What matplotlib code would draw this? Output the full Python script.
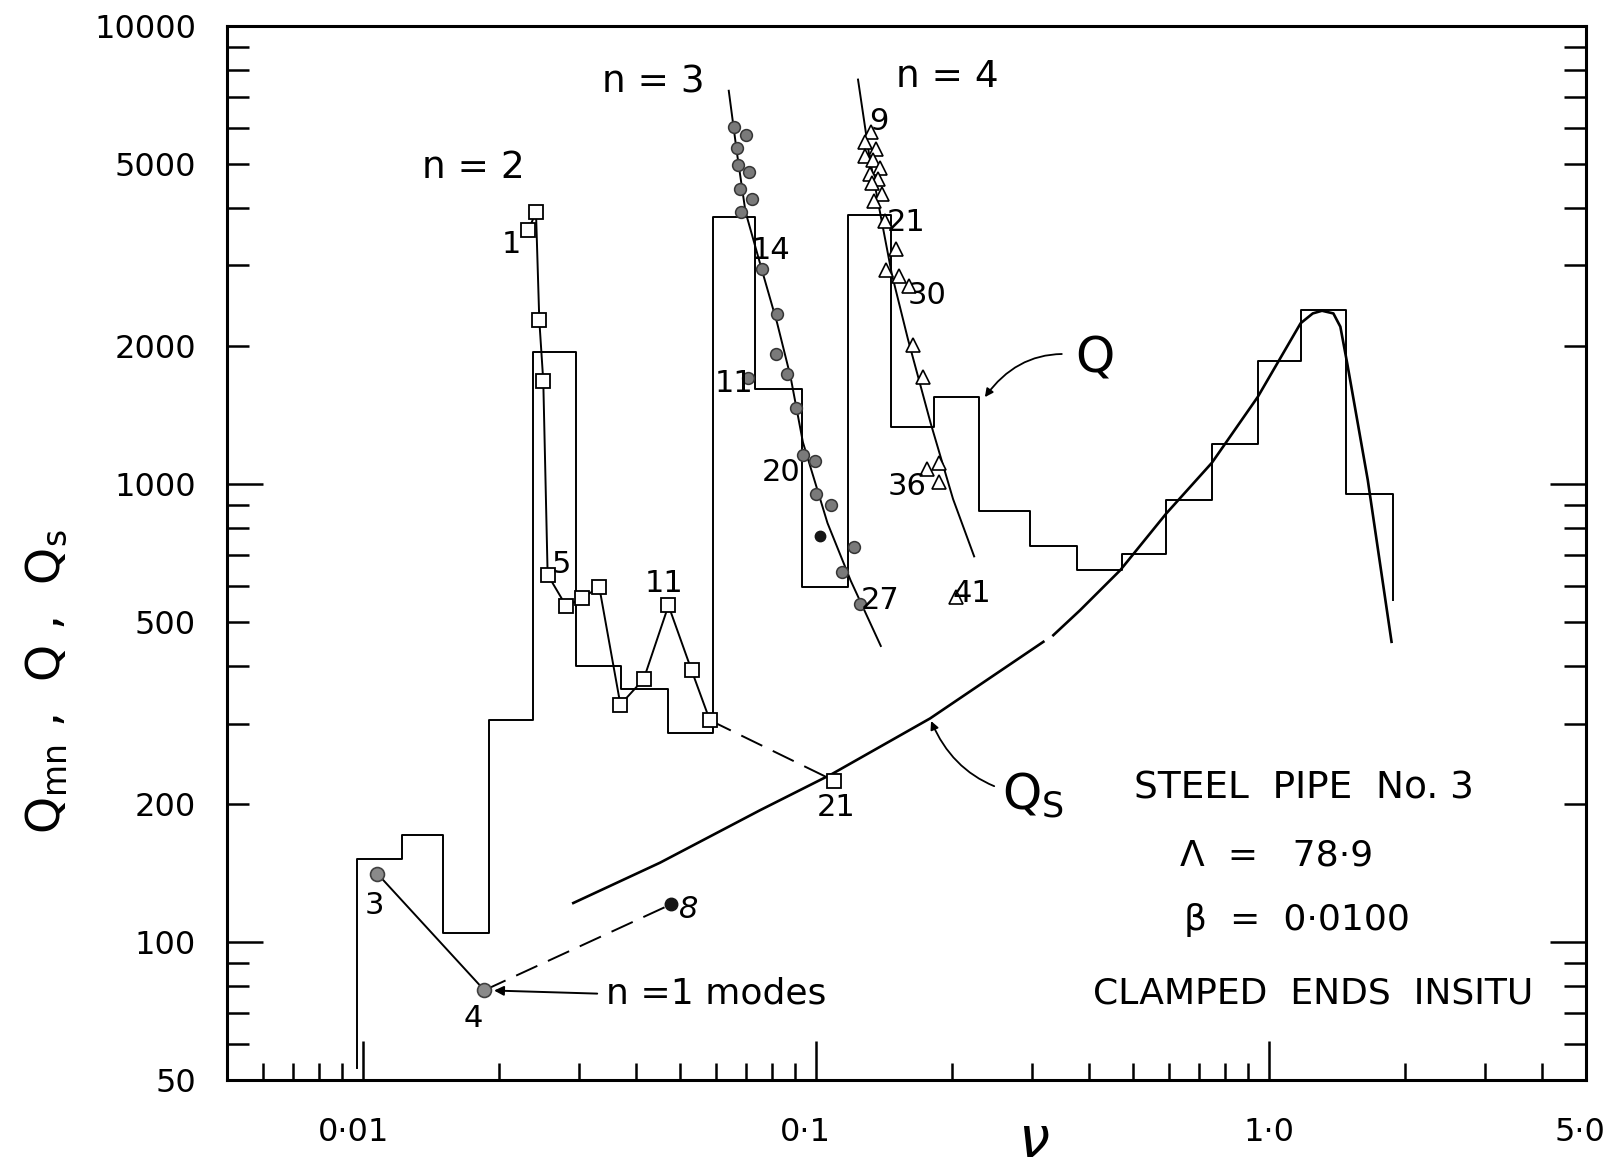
import numpy as np
import matplotlib.pyplot as plt
import matplotlib.transforms as mtransforms
from matplotlib.ticker import FixedLocator, NullFormatter

plt.rcParams['font.family'] = ['DejaVu Sans']
plt.rcParams['mathtext.default'] = 'regular'

# Q : stepped curve (bin edges in nu, level of each bin)
q_edges = [0.00968, 0.01219, 0.01503, 0.01894, 0.02369, 0.02953, 0.03711, 0.04724,
           0.05921, 0.07345, 0.09303, 0.1179, 0.1461, 0.1822, 0.2289, 0.2965,
           0.3759, 0.4727, 0.5927, 0.7479, 0.9447, 1.174, 1.481, 1.879]
q_levels = [152, 171, 104.5, 306, 1940, 401, 356, 286, 3830, 1616, 596, 3870,
            1333, 1551, 871, 733, 648, 702, 922, 1220, 1855, 2400, 953]
q_start = 53
q_end = 558

# Qs : smooth curve (NaN = break in the line)
qs_nu = [0.02912, 0.04523, 0.07522, 0.1083, 0.1785, 0.3176, np.nan,
         0.3341, 0.3826, 0.4696, 0.5927, 0.7482, 0.9447, 1.174, 1.249, 1.309,
         1.387, 1.437, 1.488, 1.652, 1.864]
qs_val = [121.7, 149, 194.0, 232.6, 307.7, 452.4, np.nan,
          467.7, 530, 648.6, 861.5, 1113, 1550, 2243, 2357, 2389,
          2357, 2205, 1834, 1020, 452.4]

# n = 1 modes (3, 4 and 8)
n1_nu = [0.01076, 0.01853]
n1_q = [141, 78.5]
n1_8 = (0.04786, 120.9)

# n = 2 modes (1 ... 13) and mode 21
n2_nu = [0.02318, 0.02409, 0.02450, 0.02500, 0.02556, 0.02810, 0.03050,
         0.03323, 0.03700, 0.04165, 0.04724, 0.05313, 0.05829]
n2_q = [3577, 3928, 2277, 1678, 634, 541, 564, 596, 330, 375, 543, 392, 305]
n2_21 = (0.1096, 225)

# n = 3 modes
n3_nu = [0.06582, 0.06988, 0.06697, 0.06718, 0.07107, 0.06790, 0.07230, 0.06845,
         0.07078, 0.07580, 0.08209, 0.08164, 0.08642, 0.09016, 0.09357, 0.09950,
         0.09980, 0.1078, 0.1210, 0.1144, 0.1248]
n3_q = [6009, 5783, 5403, 4974, 4787, 4411, 4182, 3928, 1706, 2953, 2354, 1923,
        1739, 1462, 1159, 1124, 950, 900, 730, 643, 546]
n3_black = (0.1020, 771)
n3_line_nu = [0.06418, 0.06697, 0.06988, 0.07580, 0.08209, 0.08787, 0.09357,
              0.1060, 0.1193, 0.1390]
n3_line_q = [7219, 5248, 3928, 2953, 2244, 1713, 1233, 822, 615, 443]

# n = 4 modes
n4_nu = [0.1325, 0.1285, 0.1354, 0.1283, 0.1337, 0.1381, 0.1317, 0.1372, 0.1332,
         0.1395, 0.1343, 0.1422, 0.1500, 0.1427, 0.1527, 0.1604, 0.1635, 0.1726,
         0.1756, 0.1865, 0.1865, 0.2034]
n4_q = [5862, 5585, 5387, 5188, 5088, 4897, 4749, 4622, 4535, 4298, 4155, 3744,
        3255, 2939, 2846, 2703, 2015, 1713, 1081, 1112, 1011, 568]
n4_line_nu = [0.1238, 0.1311, 0.1388, 0.1470, 0.1595, 0.1790, 0.2007, 0.2234]
n4_line_q = [7636, 5206, 3868, 2873, 2074, 1360, 927, 695]

xtick_vals = [0.01, 0.1, 1.0, 5.0]
xtick_text = ['0·01', '0·1', '1·0', '5·0']
ytick_vals = [50, 100, 200, 500, 1000, 2000, 5000, 10000]
ytick_text = ['50', '100', '200', '500', '1000', '2000', '5000', '10000']

fig = plt.figure(figsize=(16.2, 11.73), dpi=100)
ax = fig.add_axes([0.1399, 0.0793, 0.8389, 0.8986])
ax.set_xscale('log')
ax.set_yscale('log')
ax.set_xlim(0.005, 5.0)
ax.set_ylim(50, 10000)

lw = 1.4
# Q steps
step_x = [q_edges[0]] + q_edges
step_y = [q_start] + q_levels + [q_end]
ax.plot(step_x, step_y, drawstyle='steps-post', color='k', lw=lw)

# Qs
ax.plot(qs_nu, qs_val, color='k', lw=1.9, solid_joinstyle='round')

# n = 1
ax.plot(n1_nu, n1_q, color='k', lw=lw)
ax.plot([n1_nu[1], n1_8[0]], [n1_q[1], n1_8[1]], color='k', lw=lw, dashes=(12, 6))
ax.plot(n1_nu, n1_q, 'o', ms=10, mfc='#8a8a8a', mec='#404040', mew=1.2)
ax.plot(*n1_8, 'o', ms=9, color='#151515')

# n = 2
ax.plot(n2_nu, n2_q, color='k', lw=lw)
ax.plot([n2_nu[-1], n2_21[0]], [n2_q[-1], n2_21[1]], color='k', lw=lw, dashes=(12, 6))
ax.plot(n2_nu + [n2_21[0]], n2_q + [n2_21[1]], 's', ms=9.5, mfc='white', mec='k', mew=1.3)

# n = 3
ax.plot(n3_line_nu, n3_line_q, color='k', lw=lw)
ax.plot(n3_nu, n3_q, 'o', ms=8.5, mfc='#7a7a7a', mec='#353535', mew=1.1)
ax.plot(*n3_black, 'o', ms=7.5, color='#151515')

# n = 4
ax.plot(n4_line_nu, n4_line_q, color='k', lw=lw)
ax.plot(n4_nu, n4_q, '^', ms=10, mfc='white', mec='k', mew=1.2)

# mode numbers
lab = dict(textcoords='offset points', ha='center', va='center', fontsize=22)
ax.annotate('1', (n2_nu[0], n2_q[0]), xytext=(-12, -10), **lab)
ax.annotate('5', (n2_nu[4], n2_q[4]), xytext=(10, 7), **lab)
ax.annotate('11', (n2_nu[10], n2_q[10]), xytext=(-3, 16), **lab)
ax.annotate('21', n2_21, xytext=(1.5, -19), **lab)
ax.annotate('11', (n3_nu[8], n3_q[8]), xytext=(-10, -4), **lab)
ax.annotate('14', (n3_nu[9], n3_q[9]), xytext=(7, 13), **lab)
ax.annotate('20', (n3_nu[14], n3_q[14]), xytext=(-16, -13), **lab)
ax.annotate('27', (n3_nu[20], n3_q[20]), xytext=(15, 3), **lab)
ax.annotate('9', (n4_nu[0], n4_q[0]), xytext=(5, 8), **lab)
ax.annotate('21', (n4_nu[11], n4_q[11]), xytext=(15, -1), **lab)
ax.annotate('30', (n4_nu[15], n4_q[15]), xytext=(13, -7), **lab)
ax.annotate('36', (n4_nu[18], n4_q[18]), xytext=(-14, -13), **lab)
ax.annotate('41', (n4_nu[21], n4_q[21]), xytext=(12, 2), **lab)
ax.annotate('3', (n1_nu[0], n1_q[0]), xytext=(-2, -23), **lab)
ax.annotate('4', (n1_nu[1], n1_q[1]), xytext=(-8, -20), **lab)
ax.annotate('8', n1_8, xytext=(13, -4), style='italic', **lab)

# group labels
ax.text(0.1815, 0.8649, 'n = 2', transform=ax.transAxes, ha='center', va='center', fontsize=27)
ax.text(0.3138, 0.9462, 'n = 3', transform=ax.transAxes, ha='center', va='center', fontsize=27)
ax.text(0.5304, 0.9511, 'n = 4', transform=ax.transAxes, ha='center', va='center', fontsize=27)

ax.annotate('n =1 modes', xy=(n1_nu[1], n1_q[1]), xytext=(0.2788, 0.0817),
            textcoords='axes fraction', ha='left', va='center', fontsize=26,
            arrowprops=dict(arrowstyle='-|>', color='k', lw=1.4, shrinkA=4, shrinkB=7,
                            mutation_scale=14, relpos=(0, 0.5)))

ax.annotate('Q', xy=(0.234, 1530), xytext=(0.6392, 0.6845), textcoords='axes fraction',
            ha='center', va='center', fontsize=36,
            arrowprops=dict(arrowstyle='-|>', color='k', lw=1.3, shrinkA=8, shrinkB=2,
                            mutation_scale=12, connectionstyle='arc3,rad=0.35'))
ax.annotate('$Q_S$', xy=(qs_nu[4], qs_val[4]), xytext=(0.5935, 0.2698),
            textcoords='axes fraction', ha='center', va='center', fontsize=36,
            arrowprops=dict(arrowstyle='-|>', color='k', lw=1.3, shrinkA=4, shrinkB=2,
                            mutation_scale=12, connectionstyle='arc3,rad=-0.3'))

# caption block
cap = dict(transform=ax.transAxes, ha='center', va='center', fontsize=26)
ax.text(0.7927, 0.2768, 'STEEL  PIPE  No. 3', fontsize=27, **{k: v for k, v in cap.items() if k != 'fontsize'})
ax.text(0.7729, 0.2130, 'Λ  =   78·9', **cap)
ax.text(0.7874, 0.1514, 'β  =  0·0100', **cap)
ax.text(0.7996, 0.0817, 'CLAMPED  ENDS  INSITU', **cap)

# axes styling
for s in ax.spines.values():
    s.set_linewidth(2.2)

ax.xaxis.set_major_locator(FixedLocator(xtick_vals))
ax.xaxis.set_minor_locator(FixedLocator([0.006, 0.007, 0.008, 0.009, 0.02, 0.03, 0.04, 0.05,
                                         0.06, 0.07, 0.08, 0.09, 0.2, 0.3, 0.4, 0.5, 0.6,
                                         0.7, 0.8, 0.9, 2, 3, 4]))
ax.set_xticklabels(xtick_text)
ax.xaxis.set_minor_formatter(NullFormatter())

ax.yaxis.set_major_locator(FixedLocator(ytick_vals))
ax.yaxis.set_minor_locator(FixedLocator([60, 70, 80, 90, 300, 400, 600, 700, 800, 900,
                                         3000, 4000, 6000, 7000, 8000, 9000]))
ax.set_yticklabels(ytick_text)
ax.yaxis.set_minor_formatter(NullFormatter())

ax.tick_params(axis='both', which='both', direction='in', width=1.8, labelsize=23)
ax.tick_params(axis='x', which='major', length=28, pad=27, top=False)
ax.tick_params(axis='x', which='minor', length=12.5, top=False)
ax.tick_params(axis='y', which='major', length=16, pad=22, right=True)
ax.tick_params(axis='y', which='minor', length=16, right=True)
for t, v in zip(ax.yaxis.get_major_ticks(), ytick_vals):
    if v in (100, 1000):
        t.tick1line.set_markersize(26)
        t.tick2line.set_markersize(26)

# hand-lettered labels sit a little left of their ticks
for lbl, dx in zip(ax.get_xticklabels(), [-7, -8, 0, -4]):
    lbl.set_transform(lbl.get_transform() +
                      mtransforms.ScaledTranslation(dx / 72, 0, fig.dpi_scale_trans))

fig.text(0.0287, 0.4186, '$Q_{mn}$ ,  Q ,  $Q_s$', rotation=90, ha='center', va='center', fontsize=34)
fig.text(0.6377, 0.004, 'ν', ha='center', va='bottom', fontsize=40, style='italic')

fig.savefig('out.png', dpi=100, facecolor='white')
